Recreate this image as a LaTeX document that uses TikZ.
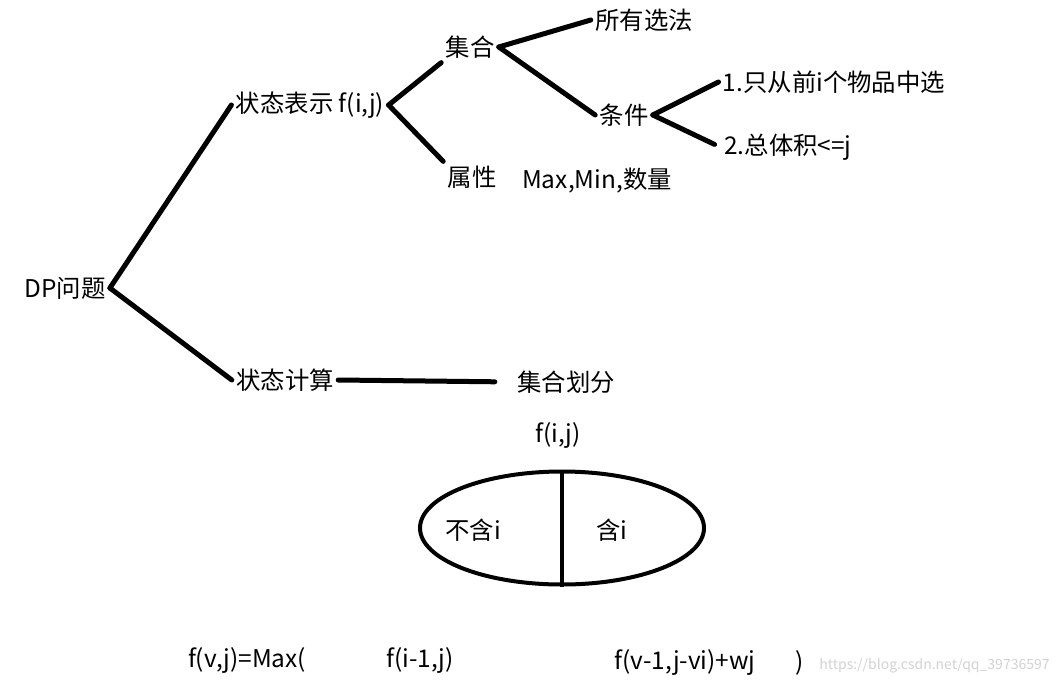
\documentclass[tikz,border=0pt]{standalone}
\usepackage{fontspec}
\newfontfamily\cjk{Noto Sans CJK SC}
\usetikzlibrary{shapes.geometric}

\begin{document}
\begin{tikzpicture}[x=0.5pt, y=-0.5pt,
  lbl/.style={inner sep=2pt, font=\cjk\fontsize{12.2}{15}\selectfont},
  edge/.style={line width=2.5pt, line cap=round}
]
\useasboundingbox (0,0) rectangle (1059,690);
% tree
\node[lbl] (dp) at (65,288) {DP问题};
\node[lbl] (rep) at (310,105) {状态表示 f(i,j)};
\node[lbl] (calc) at (285,380) {状态计算};
\node[lbl] (set) at (470,47) {集合};
\node[lbl] (attr) at (472,177) {属性};
\node[lbl] (maxmin) at (597,181) {Max,Min,数量};
\node[lbl] (all) at (644,20) {所有选法};
\node[lbl] (cond) at (624,115) {条件};
\node[lbl] (c1) at (834,82) {1.只从前i个物品中选};
\node[lbl] (c2) at (788,147) {2.总体积<=j};
\node[lbl] (part) at (566,382) {集合划分};
\draw[edge] (dp.east) -- (rep.west);
\draw[edge] (dp.east) -- (calc.west);
\draw[edge] (rep.east) -- (set.south west);
\draw[edge] (rep.east) -- (attr.north west);
\draw[edge] (set.east) -- (all.west);
\draw[edge] (set.east) -- (cond.west);
\draw[edge] (cond.east) -- (c1.west);
\draw[edge, shorten >=3pt] (cond.east) -- (c2.west);
\draw[edge, shorten >=9pt] (calc.east) -- (part.west);
% split of f(i,j)
\node[lbl] (fij) at (558,435) {f(i,j)};
\node[draw, ellipse, line width=2pt, minimum width=142pt, minimum height=56.5pt] (whole) at (562,528) {};
\draw[line width=1.6pt] (whole.north) -- (whole.south);
\node[lbl] (no) at (473,530) {不含i};
\node[lbl] (yes) at (612,530) {含i};
% recurrence
\node[lbl] (eq1) at (247,660) {f(v,j)=Max(};
\node[lbl] (eq2) at (420,660) {f(i-1,j)};
\node[lbl] (eq3) at (685,662) {f(v-1,j-vi)+wj};
\node[lbl] (close) at (800,663) {)};
\node[lbl, anchor=east, text=gray!35, font=\cjk\fontsize{7}{9}\selectfont] (wm) at (1054,666) {https://blog.csdn.net/qq\_39736597};
\end{tikzpicture}
\end{document}
